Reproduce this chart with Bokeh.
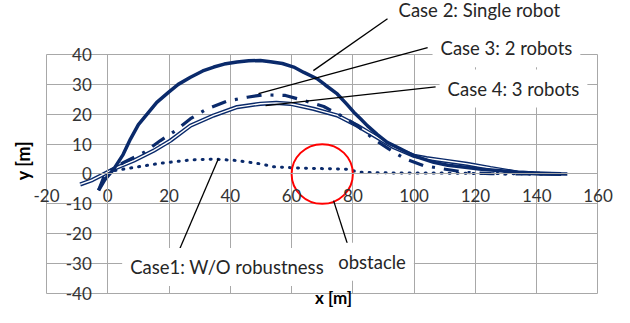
import math
from bokeh.plotting import figure
from bokeh.models import Range1d, FixedTicker, Label, Arrow
from bokeh.embed import file_html
from bokeh.resources import INLINE

# ---------------- data ----------------
x_ticks = [-20, 0, 20, 40, 60, 80, 100, 120, 140, 160]
x_tick_labels = ["-20", "0", "20", "40", "60", "80", "100", "120", "140", "160"]
y_ticks = [-40, -30, -20, -10, 0, 10, 20, 30, 40]
y_tick_labels = ["-40", "-30", "-20", "-10", "0", "10", "20", "30", "40"]

# Case 2: Single robot (solid)
case2_x = [-3, -1, 2, 5, 7.4, 10, 12.9, 16, 19.9, 23, 27, 31, 34.6, 38, 42.2, 46,
           49.8, 53.1, 57, 60.7, 64, 68.3, 71, 74.9, 78, 80.3, 82.5, 84.7, 88, 91.2,
           95.5, 99.9, 106.4, 111, 117.3, 122, 128.2, 134, 139, 145, 150]
case2_y = [-5.5, -2, 1.7, 6.5, 11.7, 16.5, 20.1, 24, 27.4, 30, 32.4, 34.5, 35.8, 36.8,
           37.5, 37.9, 38.0, 37.6, 37, 35.8, 34, 31.9, 29.8, 26.8, 23.4, 20.7, 18.5,
           16.2, 13.2, 10.6, 8.4, 6.1, 3.9, 2.9, 2.2, 1.6, 1.1, 0.6, 0.3, 0.1, 0]

# Case 3: 2 robots (dash-dot)
case3_x = [-3, -1.3, 1, 5.2, 11.8, 17.2, 22.1, 27, 32.4, 38.9, 45.5, 50.9, 58, 64,
           70.5, 76, 81.4, 86.8, 91.7, 97.2, 103.1, 109.6, 117.3, 125, 135, 145]
case3_y = [-5.5, -1, 1.2, 3.9, 7.2, 11.2, 14.5, 18.5, 21.8, 24.4, 25.7, 26.5, 26.3,
           24.6, 22.6, 19.6, 16.2, 11.7, 8.4, 5.0, 2.8, 1.7, 0.5, 0.1, 0, 0]

# Case 4: 3 robots (double line)
case4_x = [-9, -5, -2.4, 2, 8.5, 15, 20.5, 27, 34.6, 42.2, 49.8, 55, 59.6, 67.2,
           74.9, 81.4, 86.8, 93.4, 99.9, 104, 109.6, 117.3, 124.9, 133.6, 141, 148]
case4_y = [-3.5, -2, -0.6, 1.7, 4.5, 7.8, 11.2, 16.2, 19.6, 22.4, 23.5, 23.8, 23.5,
           21.8, 19.6, 16.2, 12.9, 8.9, 6.1, 5.3, 4.5, 3.4, 2.0, 0.5, 0.1, 0]

# Case 1: W/O robustness (dotted)
case1_x = [0, 2, 8.5, 17.2, 27, 34.6, 42.2, 49.8, 54.2, 60, 65.1, 70, 78, 82, 90,
           100, 110, 120, 130, 140]
case1_y = [0, 1.1, 2.2, 3.6, 4.7, 5.0, 4.5, 3.4, 2.4, 2.1, 1.9, 1.8, 1.6, 0.6, 0.4,
           0.3, 0.3, 0.2, 0.1, 0]

# Obstacle
obstacle_x = [70]
obstacle_y = [0]
obstacle_d = [20]

NAVY = "#0A2A6B"
GRID = "#A8A8A8"
TXT = "#262626"
FONT = "Lato"

# plotting area spans x -20..160, y -40..40; extra room around it for the
# callouts, which live in data space outside that area
p = figure(width=614, height=307,
           x_range=Range1d(-35.01, 165.39), y_range=Range1d(-44.69, 58.08),
           output_backend="svg", toolbar_location=None, min_border=0)
p.background_fill_color = "white"
p.border_fill_color = "white"
p.outline_line_color = None

# axes crossing at zero
for ax, ticks, labels, bnds in ((p.xaxis[0], x_ticks, x_tick_labels, (-20, 160)),
                                (p.yaxis[0], y_ticks, y_tick_labels, (-40, 40))):
    ax.fixed_location = 0
    ax.bounds = bnds
    ax.ticker = FixedTicker(ticks=ticks)
    ax.major_label_overrides = {t: l for t, l in zip(ticks, labels)}
    ax.axis_line_color = GRID
    ax.major_tick_line_color = None
    ax.minor_tick_line_color = None
    ax.major_tick_in = 0
    ax.major_tick_out = 0
    ax.major_label_text_font = FONT
    ax.major_label_text_font_size = "17px"
    ax.major_label_text_color = "#333333"
p.xaxis.major_label_standoff = 15
p.yaxis.major_label_standoff = 16

p.xgrid.ticker = FixedTicker(ticks=x_ticks)
p.ygrid.ticker = FixedTicker(ticks=y_ticks)
p.xgrid.bounds = (-20, 160)
p.xgrid.cross_bounds = (-40, 40)
p.ygrid.bounds = (-40, 40)
p.ygrid.cross_bounds = (-20, 160)
p.grid.grid_line_color = GRID
p.grid.grid_line_width = 1

# curves
p.line(case4_x, case4_y, line_color=NAVY, line_width=4.2)
p.line(case4_x, case4_y, line_color="white", line_width=1.4)
p.line(case3_x, case3_y, line_color=NAVY, line_width=3.2, line_dash="15 9 3 9")
p.line(case1_x, case1_y, line_color=NAVY, line_width=3, line_dash="1 7",
       line_cap="round")
p.line(case2_x, case2_y, line_color=NAVY, line_width=3.5)
p.ellipse(x=obstacle_x, y=obstacle_y, width=obstacle_d, height=obstacle_d,
          fill_color=None, line_color="#FF0000", line_width=2)

# leader lines
leaders = [
    (91.3, 52.0, 67.1, 34.6),
    (104.4, 42.3, 49.2, 26.9),
    (107.0, 29.2, 51.5, 22.9),
    (22.8, -26.7, 36.1, 5.1),
    (78.6, -24.6, 73.7, -8.9),
]
for xs, ys, xe, ye in leaders:
    p.add_layout(Arrow(end=None, x_start=xs, y_start=ys, x_end=xe, y_end=ye,
                       line_color="black", line_width=1.3))

notes = [
    ("Case 2: Single robot", 92.3, 54.8),
    ("Case 3: 2 robots", 106.0, 42.1),
    ("Case 4: 3 robots", 108.3, 28.6),
    ("Case1: W/O robustness", 4.7, -31.1),
    ("obstacle", 72.6, -29.4),
]
for txt, lx, ly in notes:
    p.add_layout(Label(x=lx, y=ly, text=txt, text_font=FONT,
                       text_font_size="18.5px", text_color=TXT,
                       text_align="left", text_baseline="middle",
                       background_fill_color="white", padding=8))

p.add_layout(Label(x=-27.8, y=4.5, text="y [m]", angle=math.pi / 2,
                   text_font=FONT, text_font_size="18px", text_font_style="bold",
                   text_color="black", text_align="center", text_baseline="middle"))
p.add_layout(Label(x=73.7, y=-41.3, text="x [m]",
                   text_font=FONT, text_font_size="17px", text_font_style="bold",
                   text_color="black", text_align="center", text_baseline="middle"))

open("out.html", "w").write(file_html(p, INLINE))
